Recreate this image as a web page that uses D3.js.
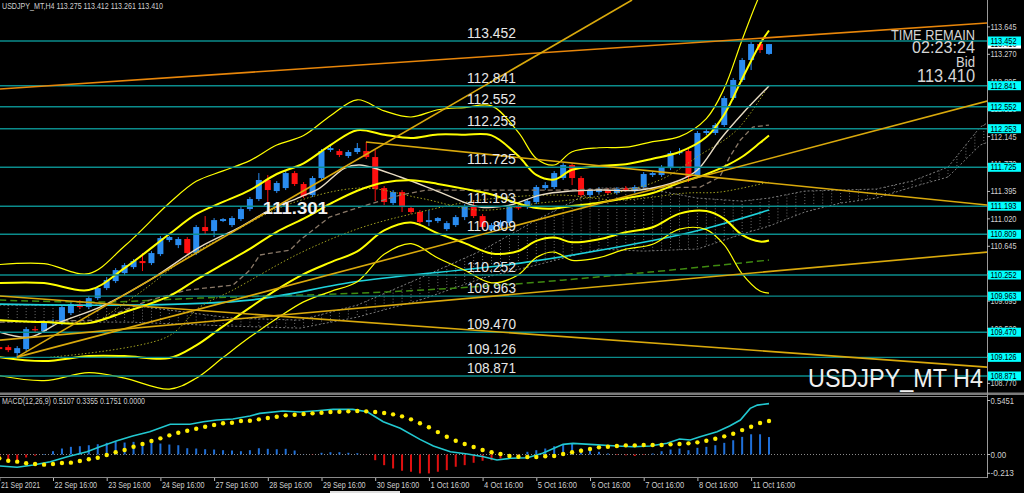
<!DOCTYPE html>
<html><head><meta charset="utf-8">
<script src="https://cdn.jsdelivr.net/npm/d3@7"></script>
<style>html,body{margin:0;padding:0;background:#000;overflow:hidden}</style>
</head><body>
<svg id="c" width="1024" height="493"></svg>
<script>
// ---------------- DATA ----------------
const symbolTitle = "USDJPY_MT,H4  113.275 113.412 113.261 113.410";
const macdTitle = "MACD(12,26,9) 0.5107 0.3355 0.1751 0.0000";
const timeLabels = ["21 Sep 2021","22 Sep 16:00","23 Sep 16:00","24 Sep 16:00","27 Sep 16:00","28 Sep 16:00","29 Sep 16:00","30 Sep 16:00","1 Oct 16:00","4 Oct 16:00","5 Oct 16:00","6 Oct 16:00","7 Oct 16:00","8 Oct 16:00","11 Oct 16:00"];
const timeLabelBars = [0,6,12,18,24,30,36,42,48,54,60,66,72,78,84];
const priceTicks = [113.645,113.270,112.895,112.520,112.145,111.770,111.395,111.020,110.645,110.270,109.895,109.520,109.145,108.770];
const levels = [113.452,112.841,112.552,112.253,111.725,111.193,110.809,110.252,109.963,109.470,109.126,108.871];
const bidPrice = 113.410;
const markPrice = 111.301;

const candleOpen = [109.266,109.266,109.184,109.239,109.512,109.485,109.595,109.595,109.731,109.854,109.813,109.936,110.073,110.169,110.278,110.360,110.443,110.415,110.538,110.730,110.661,110.744,110.552,110.908,110.853,110.990,110.935,111.017,111.154,111.291,111.551,111.400,111.441,111.646,111.496,111.345,111.578,111.961,111.947,111.879,111.934,111.947,111.865,111.441,111.236,111.386,111.167,111.113,110.976,110.990,110.880,110.935,111.044,111.195,111.058,110.867,110.921,110.962,111.181,111.181,111.250,111.441,111.455,111.578,111.756,111.578,111.345,111.386,111.414,111.373,111.441,111.400,111.455,111.619,111.619,111.714,111.920,111.947,111.605,112.194,112.194,112.303,112.672,112.919,113.192,113.411,113.275];
const candleHigh = [109.293,109.293,109.280,109.540,109.553,109.622,109.649,109.841,109.882,109.909,109.964,110.101,110.224,110.347,110.415,110.470,110.552,110.579,110.785,110.785,110.771,110.771,110.935,111.058,111.031,111.031,111.058,111.181,111.318,111.646,111.619,111.537,111.674,111.674,111.523,111.605,111.975,112.016,111.975,111.961,112.057,112.070,111.961,111.469,111.414,111.414,111.195,111.140,111.140,111.044,110.990,111.072,111.222,111.277,111.085,110.962,111.003,111.209,111.209,111.291,111.482,111.523,111.674,111.783,111.783,111.605,111.441,111.455,111.441,111.455,111.469,111.482,111.660,111.674,111.756,111.947,111.988,111.975,112.221,112.248,112.330,112.700,112.946,113.220,113.438,113.438,113.412];
const candleLow = [109.211,109.198,109.129,109.211,109.458,109.458,109.567,109.567,109.704,109.786,109.786,109.909,110.046,110.142,110.251,110.333,110.306,110.388,110.511,110.702,110.620,110.525,110.525,110.812,110.771,110.976,110.908,110.990,111.126,111.263,111.250,111.373,111.414,111.469,111.304,111.318,111.551,111.934,111.865,111.852,111.906,111.838,111.263,111.209,111.209,111.113,111.085,110.949,110.921,110.962,110.853,110.908,111.003,111.031,110.880,110.839,110.894,110.935,111.140,111.154,111.222,111.414,111.428,111.551,111.482,111.318,111.318,111.359,111.359,111.359,111.400,111.373,111.428,111.592,111.592,111.687,111.893,111.523,111.578,112.166,112.166,112.276,112.645,112.891,113.055,113.288,113.261];
const candleClose = [109.239,109.225,109.252,109.512,109.499,109.595,109.608,109.813,109.854,109.813,109.936,110.073,110.183,110.319,110.388,110.443,110.415,110.552,110.757,110.771,110.744,110.552,110.908,110.853,111.003,111.017,111.031,111.154,111.291,111.551,111.414,111.510,111.646,111.496,111.332,111.578,111.947,111.988,111.893,111.934,111.988,111.865,111.428,111.250,111.386,111.181,111.113,110.976,111.003,111.031,110.962,111.044,111.195,111.058,110.908,110.935,110.976,111.181,111.167,111.263,111.455,111.482,111.646,111.756,111.578,111.345,111.414,111.428,111.373,111.428,111.414,111.455,111.633,111.646,111.728,111.920,111.934,111.592,112.194,112.221,112.303,112.672,112.919,113.192,113.411,113.329,113.410];

// Bollinger-type bands [bar, price]
const bandUpper3 = [[0,110.395],[5,110.408],[10,110.272],[14,110.648],[19,111.236],[22,111.533],[25,111.676],[28,111.816],[31,112.029],[34,112.159],[37,112.430],[40,112.648],[43,112.497],[46,112.413],[49,112.512],[52,112.542],[55,112.565],[58,112.202],[60,111.846],[62,111.756],[64,111.938],[67,111.992],[70,112.000],[73,112.076],[76,112.144],[79,112.391],[81,112.805],[83,113.470],[85,114.088],[86,114.315]];
const bandUpper2 = [[0,110.142],[5,110.142],[10,110.046],[14,110.347],[19,110.812],[22,111.084],[25,111.251],[28,111.414],[31,111.633],[34,111.780],[37,112.029],[40,112.233],[43,112.170],[46,112.125],[49,112.174],[52,112.171],[55,112.161],[58,111.878],[60,111.620],[62,111.557],[64,111.691],[67,111.742],[70,111.767],[73,111.842],[76,111.934],[79,112.138],[81,112.448],[83,112.936],[85,113.412],[86,113.596]];
const bandMid = [[0,109.635],[5,109.608],[10,109.594],[14,109.745],[19,109.964],[22,110.187],[25,110.400],[28,110.610],[31,110.843],[34,111.022],[37,111.227],[40,111.404],[43,111.516],[46,111.547],[49,111.498],[52,111.430],[55,111.354],[58,111.229],[60,111.169],[62,111.161],[64,111.196],[67,111.241],[70,111.302],[73,111.374],[76,111.512],[79,111.632],[81,111.734],[83,111.869],[85,112.060],[86,112.160]];
const bandLower2 = [[0,109.129],[5,109.075],[10,109.143],[14,109.143],[19,109.116],[22,109.289],[25,109.549],[28,109.806],[31,110.052],[34,110.264],[37,110.425],[40,110.575],[43,110.862],[46,110.970],[49,110.822],[52,110.688],[55,110.547],[58,110.581],[60,110.718],[62,110.764],[64,110.700],[67,110.741],[70,110.837],[73,110.906],[76,111.091],[79,111.126],[81,111.020],[83,110.802],[85,110.709],[86,110.724]];
const bandLower3 = [[0,108.876],[5,108.808],[10,108.917],[14,108.842],[19,108.692],[22,108.841],[25,109.124],[28,109.403],[31,109.657],[34,109.885],[37,110.025],[40,110.161],[43,110.535],[46,110.681],[49,110.484],[52,110.317],[55,110.144],[58,110.257],[60,110.492],[62,110.566],[64,110.453],[67,110.490],[70,110.605],[73,110.672],[76,110.880],[79,110.873],[81,110.663],[83,110.269],[85,110.033],[86,110.005]];

const maFast = [[0,109.471],[3.4,109.403],[6.8,109.608],[11.25,109.813],[16.8,110.183],[22.4,110.634],[26.9,110.908],[30.2,111.140],[33.6,111.318],[35.8,111.441],[38.6,111.715],[40.3,111.756],[44.8,111.592],[49.2,111.386],[53.7,111.181],[57.1,111.209],[60.4,111.345],[63.8,111.400],[67.1,111.414],[71.6,111.414],[76.1,111.551],[78,111.687],[80.5,112.098],[83.1,112.467],[86,112.837]];
const maDotted1 = [[11.25,109.635],[16.1,110.046],[21,110.497],[26.1,110.839],[32.1,111.209],[40.3,111.441],[47,111.304],[53.7,111.140],[60.4,111.236],[67.1,111.332],[73.8,111.551],[78.3,111.893],[82.4,112.235],[86,112.850]];
const maDotted2 = [[5.7,109.129],[18.7,109.403],[22.4,109.813],[26.1,110.046],[33.6,110.552],[40.3,110.894],[47,111.113],[53.7,111.277],[62.6,111.345],[69.4,111.277],[76.8,111.373],[80.5,111.386],[86,111.523]];
const maCyan = [[0,109.854],[14.6,109.841],[28,109.909],[40.3,110.169],[58.2,110.415],[72.7,110.716],[78.3,110.867],[86,111.140]];
const maGreen = [[0,109.909],[11.25,109.882],[22.4,109.936],[40.3,110.005],[56,110.114],[72.7,110.292],[86,110.456]];
const kijun = [[0,109.608],[11.25,109.635],[16.8,109.909],[21,110.046],[26.1,110.114],[28,110.319],[29.1,110.525],[32.5,110.593],[33.6,110.730],[36.9,111.044],[40.3,111.181],[44.8,111.345],[47.8,111.414],[62.6,111.414],[78.3,111.455],[80.5,111.592],[81.6,111.865],[82.8,112.098],[84.2,112.276],[86,112.303]];

const spanA = [[0,109.841],[14.6,109.841],[26,109.663],[33.6,109.635],[40,109.841],[47,110.210],[54,110.593],[60,111.003],[67,111.441],[72,111.441],[78,111.304],[83,111.263],[86,111.304],[90,111.400],[94,111.414],[98,111.428],[102,111.537],[106,111.728],[109.6,112.276],[112,112.440]];
const spanB = [[0,109.608],[14.6,109.608],[26,109.553],[33.6,109.526],[40,109.676],[47,109.909],[54,110.210],[60,110.388],[67,110.607],[72,110.579],[78,110.607],[83,110.812],[86,110.921],[90,111.113],[94,111.236],[98,111.304],[102,111.455],[106,111.592],[109.6,112.029],[112,112.139]];

// trend lines: [bar1, price1, bar2, price2]
const trendOrange = [[0.08,112.795,110.4,113.698]];
const trendGold = [[1.98,109.129,70.7,114.013],[1.98,109.129,110.4,112.631],[0.08,109.362,110.4,110.566],[40.97,112.070,110.4,111.209],[0.08,109.964,110.4,108.992]];

// MACD
const macdMain = [[0,-0.115],[2,-0.128],[3.8,-0.105],[5.7,-0.072],[7.6,-0.022],[9.8,0.028],[11.25,0.078],[13.15,0.138],[14.9,0.185],[16.8,0.228],[19.1,0.303],[21.3,0.303],[22.8,0.329],[24.3,0.346],[26.1,0.356],[28,0.386],[29.1,0.413],[31.7,0.436],[33.6,0.426],[35.5,0.439],[37.3,0.453],[39.5,0.453],[41.1,0.429],[42.9,0.329],[44.8,0.263],[47,0.152],[48.5,0.085],[50.4,0.028],[52.3,0.005],[54.1,-0.022],[55.6,-0.055],[57.1,-0.038],[59,-0.032],[60.7,0.012],[63,0.102],[64.1,0.112],[66,0.102],[69,0.085],[70.8,0.078],[72.7,0.085],[74.6,0.112],[76,0.155],[77.2,0.145],[78.3,0.178],[80.2,0.228],[81.6,0.286],[82.8,0.346],[83.9,0.463],[84.7,0.496],[86,0.511]];
const macdSignal = [-0.038,-0.062,-0.072,-0.088,-0.095,-0.102,-0.095,-0.085,-0.082,-0.065,-0.048,-0.032,-0.005,0.022,0.045,0.078,0.105,0.135,0.162,0.192,0.218,0.238,0.259,0.279,0.296,0.313,0.319,0.336,0.339,0.353,0.366,0.379,0.393,0.399,0.406,0.413,0.419,0.426,0.429,0.433,0.436,0.433,0.426,0.416,0.403,0.383,0.353,0.313,0.273,0.225,0.178,0.138,0.105,0.075,0.045,0.022,0.005,-0.015,-0.022,-0.025,-0.025,-0.018,-0.015,0.005,0.022,0.038,0.055,0.072,0.078,0.085,0.092,0.092,0.095,0.095,0.095,0.102,0.105,0.112,0.122,0.138,0.158,0.182,0.208,0.245,0.279,0.316,0.336];
const macdHist = [-0.05,-0.065,-0.085,-0.03,-0.012,0.005,0.033,0.06,0.077,0.083,0.093,0.103,0.117,0.127,0.12,0.127,0.11,0.117,0.11,0.10,0.093,0.063,0.06,0.053,0.05,0.043,0.04,0.033,0.043,0.063,0.057,0.053,0.057,0.04,0.002,-0.003,0.017,0.023,0.023,0.017,0.013,-0.002,-0.057,-0.107,-0.14,-0.163,-0.173,-0.19,-0.19,-0.173,-0.157,-0.123,-0.107,-0.083,-0.063,-0.057,-0.04,-0.023,-0.01,0.027,0.043,0.06,0.083,0.1,0.11,0.06,0.05,0.027,0.01,-0.005,-0.008,-0.015,-0.005,0.01,0.033,0.05,0.06,0.043,0.067,0.077,0.093,0.117,0.143,0.177,0.203,0.203,0.175];
const macdTickText = ["0.5451","0.00","-0.213"];

const infoLines = ["TIME REMAIN","02:23:24","Bid","113.410"];
const watermark = "USDJPY_MT H4";

// ---------------- DRAW ----------------
const svg = d3.select('#c');
const FONT = "'Liberation Sans', Arial, sans-serif";
const AX = 987;
svg.append('rect').attr('width',1024).attr('height',493).attr('fill','#000');

const x = d3.scaleLinear().domain([0,86]).range([-0.7,769]);
const y = d3.scaleLinear().domain([108.871,113.452]).range([376,41]);
const ym = d3.scaleLinear().domain([0,0.5451]).range([454.5,400.2]);

const defs = svg.append('defs');
defs.append('clipPath').attr('id','cm').append('rect').attr('x',0).attr('y',0).attr('width',AX).attr('height',393);
defs.append('clipPath').attr('id','cd').append('rect').attr('x',0).attr('y',397).attr('width',AX).attr('height',80);

const main = svg.append('g').attr('clip-path','url(#cm)');
const sub = svg.append('g').attr('clip-path','url(#cd)');

const lineP = d3.line().x(d=>x(d[0])).y(d=>y(d[1])).curve(d3.curveCatmullRom.alpha(0.5));
const lineL = d3.line().x(d=>x(d[0])).y(d=>y(d[1]));

// Ichimoku cloud (dotted hatch)
const sA = d3.scaleLinear().domain(spanA.map(d=>d[0])).range(spanA.map(d=>d[1]));
const sB = d3.scaleLinear().domain(spanB.map(d=>d[0])).range(spanB.map(d=>d[1]));
const cloudBars = d3.range(0,113);
main.append('g').selectAll('line').data(cloudBars).join('line')
  .attr('x1',d=>x(d)).attr('x2',d=>x(d))
  .attr('y1',d=>y(sA(d))).attr('y2',d=>y(sB(d)))
  .attr('stroke','#6e6e6e').attr('stroke-width',1).attr('stroke-dasharray','1,2');
[spanA,spanB].forEach(s=>{
  main.append('path').attr('d',lineL(s)).attr('fill','none')
    .attr('stroke','#7a7a7a').attr('stroke-width',1).attr('stroke-dasharray','2,2');
});

// candles
const bars = d3.range(candleOpen.length);
const up = i => candleClose[i] >= candleOpen[i];
const cg = main.append('g');
cg.selectAll('line').data(bars).join('line')
  .attr('x1',i=>x(i)).attr('x2',i=>x(i))
  .attr('y1',i=>y(candleHigh[i])).attr('y2',i=>y(candleLow[i]))
  .attr('stroke',i=>up(i)?'#2a8cf0':'#ff1010').attr('stroke-width',1);
cg.selectAll('rect').data(bars).join('rect')
  .attr('x',i=>x(i)-3).attr('width',6)
  .attr('y',i=>y(Math.max(candleOpen[i],candleClose[i])))
  .attr('height',i=>Math.max(1.2, Math.abs(y(candleOpen[i])-y(candleClose[i]))))
  .attr('fill',i=>up(i)?'#2a8cf0':'#ff1010');

// moving averages
main.append('path').attr('d',lineP(maGreen)).attr('fill','none').attr('stroke','#3f8a10').attr('stroke-width',1.5).attr('stroke-dasharray','7,4');
main.append('path').attr('d',lineP(maCyan)).attr('fill','none').attr('stroke','#1ed2dc').attr('stroke-width',1.6);
main.append('path').attr('d',lineL(kijun)).attr('fill','none').attr('stroke','#8a7968').attr('stroke-width',1.3).attr('stroke-dasharray','5,3');
main.append('path').attr('d',lineP(maDotted2)).attr('fill','none').attr('stroke','#a0a020').attr('stroke-width',1).attr('stroke-dasharray','1.5,2');
main.append('path').attr('d',lineP(maDotted1)).attr('fill','none').attr('stroke','#a0a020').attr('stroke-width',1).attr('stroke-dasharray','1.5,2');
main.append('path').attr('d',lineP(maFast)).attr('fill','none').attr('stroke','#e8dcc4').attr('stroke-width',1.4);

// bands
[[bandUpper3,1.2],[bandUpper2,2],[bandMid,2],[bandLower2,2],[bandLower3,1.2]].forEach(([b,w])=>{
  main.append('path').attr('d',lineP(b)).attr('fill','none').attr('stroke','#ffff00').attr('stroke-width',w);
});

// horizontal levels
main.append('g').selectAll('line').data(levels).join('line')
  .attr('x1',0).attr('x2',AX).attr('y1',d=>y(d)).attr('y2',d=>y(d))
  .attr('stroke','#0b8c8c').attr('stroke-width',1.4);

// trend lines
trendOrange.forEach(t=>{
  main.append('line').attr('x1',x(t[0])).attr('y1',y(t[1])).attr('x2',x(t[2])).attr('y2',y(t[3]))
    .attr('stroke','#e8860a').attr('stroke-width',1.6);
});
trendGold.forEach(t=>{
  main.append('line').attr('x1',x(t[0])).attr('y1',y(t[1])).attr('x2',x(t[2])).attr('y2',y(t[3]))
    .attr('stroke','#d9a90c').attr('stroke-width',1.6);
});

// level labels
main.append('g').selectAll('text').data(levels).join('text')
  .attr('x',x(52.25)).attr('y',d=>y(d)-3)
  .attr('font-family',FONT).attr('font-size',14.5).attr('fill','#e8e8e8')
  .attr('textLength',49).attr('lengthAdjust','spacingAndGlyphs')
  .text(d=>d.toFixed(3));

// bold price mark
main.append('text').attr('x',x(29.45)).attr('y',y(markPrice)+16)
  .attr('font-family',FONT).attr('font-size',17).attr('font-weight','bold').attr('fill','#f2f2f2')
  .attr('textLength',65).attr('lengthAdjust','spacingAndGlyphs').text(markPrice.toFixed(3));

// info text top right
const infoY = [40,53,67,82], infoS=[15,17,15,19], infoW=[84,63,19,58];
infoLines.forEach((t,k)=>{
  svg.append('text').attr('x',975).attr('y',infoY[k]).attr('text-anchor','end')
    .attr('font-family',FONT).attr('font-size',infoS[k]).attr('fill','#d6d6d6')
    .attr('textLength',infoW[k]).attr('lengthAdjust','spacingAndGlyphs').text(t);
});
svg.append('text').attr('x',808).attr('y',386.5).attr('font-family',FONT).attr('font-size',25)
  .attr('fill','#f0f0f0').attr('textLength',175).attr('lengthAdjust','spacingAndGlyphs').text(watermark);

// header
svg.append('text').attr('x',2).attr('y',9).attr('font-family',FONT).attr('font-size',9.5)
  .attr('fill','#cfcfcf').attr('textLength',161).attr('lengthAdjust','spacingAndGlyphs').text(symbolTitle);

// MACD panel
sub.append('line').attr('x1',0).attr('x2',AX).attr('y1',ym(0)).attr('y2',ym(0))
  .attr('stroke','#8a8a8a').attr('stroke-width',1).attr('stroke-dasharray','1,2');
sub.selectAll('rect.h').data(bars).join('rect').attr('class','h')
  .attr('x',i=>x(i)-1).attr('width',2)
  .attr('y',i=>Math.min(ym(0),ym(macdHist[i])))
  .attr('height',i=>Math.abs(ym(macdHist[i])-ym(0)))
  .attr('fill',i=>macdHist[i]>=0?'#1f6fd8':'#e01010');
sub.append('path').attr('d',d3.line().x(d=>x(d[0])).y(d=>ym(d[1]))(macdMain))
  .attr('fill','none').attr('stroke','#22c8d0').attr('stroke-width',1.6);
sub.selectAll('circle').data(bars).join('circle')
  .attr('cx',i=>x(i)).attr('cy',i=>ym(macdSignal[i])).attr('r',2.2).attr('fill','#ffee00');
svg.append('text').attr('x',2).attr('y',404).attr('font-family',FONT).attr('font-size',9.5)
  .attr('fill','#cfcfcf').attr('textLength',143).attr('lengthAdjust','spacingAndGlyphs').text(macdTitle);

// frames
svg.append('rect').attr('x',0).attr('y',392.5).attr('width',1024).attr('height',2.5).attr('fill','#7c7c7c');
svg.append('line').attr('x1',0).attr('x2',AX).attr('y1',396.5).attr('y2',396.5).attr('stroke','#8a8a8a');
svg.append('line').attr('x1',0).attr('x2',AX).attr('y1',477.5).attr('y2',477.5).attr('stroke','#8a8a8a');
svg.append('line').attr('x1',AX+0.5).attr('x2',AX+0.5).attr('y1',0).attr('y2',478).attr('stroke','#9a9a9a');
svg.append('rect').attr('x',330).attr('y',491).attr('width',70).attr('height',2).attr('fill','#dedede');

// right price axis
const ra = svg.append('g');
ra.selectAll('line').data(priceTicks).join('line')
  .attr('x1',AX).attr('x2',AX+3).attr('y1',d=>y(d)).attr('y2',d=>y(d)).attr('stroke','#bbb');
ra.selectAll('text').data(priceTicks).join('text')
  .attr('x',990.5).attr('y',d=>y(d)+3).attr('font-family',FONT).attr('font-size',9)
  .attr('fill','#d0d0d0').attr('textLength',26).attr('lengthAdjust','spacingAndGlyphs')
  .text(d=>d.toFixed(3));
// bid box
ra.append('rect').attr('x',988).attr('y',y(bidPrice)-4.5).attr('width',33).attr('height',9).attr('fill','#ffffff');
ra.append('text').attr('x',990.5).attr('y',y(bidPrice)+3).attr('font-family',FONT).attr('font-size',9)
  .attr('fill','#000').attr('textLength',26).attr('lengthAdjust','spacingAndGlyphs').text(bidPrice.toFixed(3));
const lb = ra.selectAll('g.lv').data(levels).join('g').attr('class','lv');
lb.append('rect').attr('x',988).attr('y',d=>y(d)-4.5).attr('width',33).attr('height',9).attr('fill','#00ffff');
lb.append('text').attr('x',990.5).attr('y',d=>y(d)+3).attr('font-family',FONT).attr('font-size',9)
  .attr('fill','#000').attr('textLength',26).attr('lengthAdjust','spacingAndGlyphs').text(d=>d.toFixed(3));

// MACD axis
const mY = [400.5, ym(0), 473.3];
macdTickText.forEach((t,k)=>{
  svg.append('line').attr('x1',AX).attr('x2',AX+3).attr('y1',mY[k]).attr('y2',mY[k]).attr('stroke','#bbb');
  svg.append('text').attr('x',990.5).attr('y',mY[k]+3).attr('font-family',FONT).attr('font-size',9)
    .attr('fill','#d0d0d0').attr('textLength',t.length*3.9).attr('lengthAdjust','spacingAndGlyphs').text(t);
});

// time axis
const ta = svg.append('g');
ta.selectAll('line').data(timeLabelBars).join('line')
  .attr('x1',d=>x(d)+0.5).attr('x2',d=>x(d)+0.5).attr('y1',478).attr('y2',481).attr('stroke','#bbb');
ta.selectAll('text').data(timeLabels).join('text')
  .attr('x',(d,k)=>Math.max(1,x(timeLabelBars[k])+1.5)).attr('y',487.5)
  .attr('font-family',FONT).attr('font-size',9.5).attr('fill','#d0d0d0')
  .attr('textLength',d=>d.length*3.55).attr('lengthAdjust','spacingAndGlyphs').text(d=>d);
</script>
</body></html>
